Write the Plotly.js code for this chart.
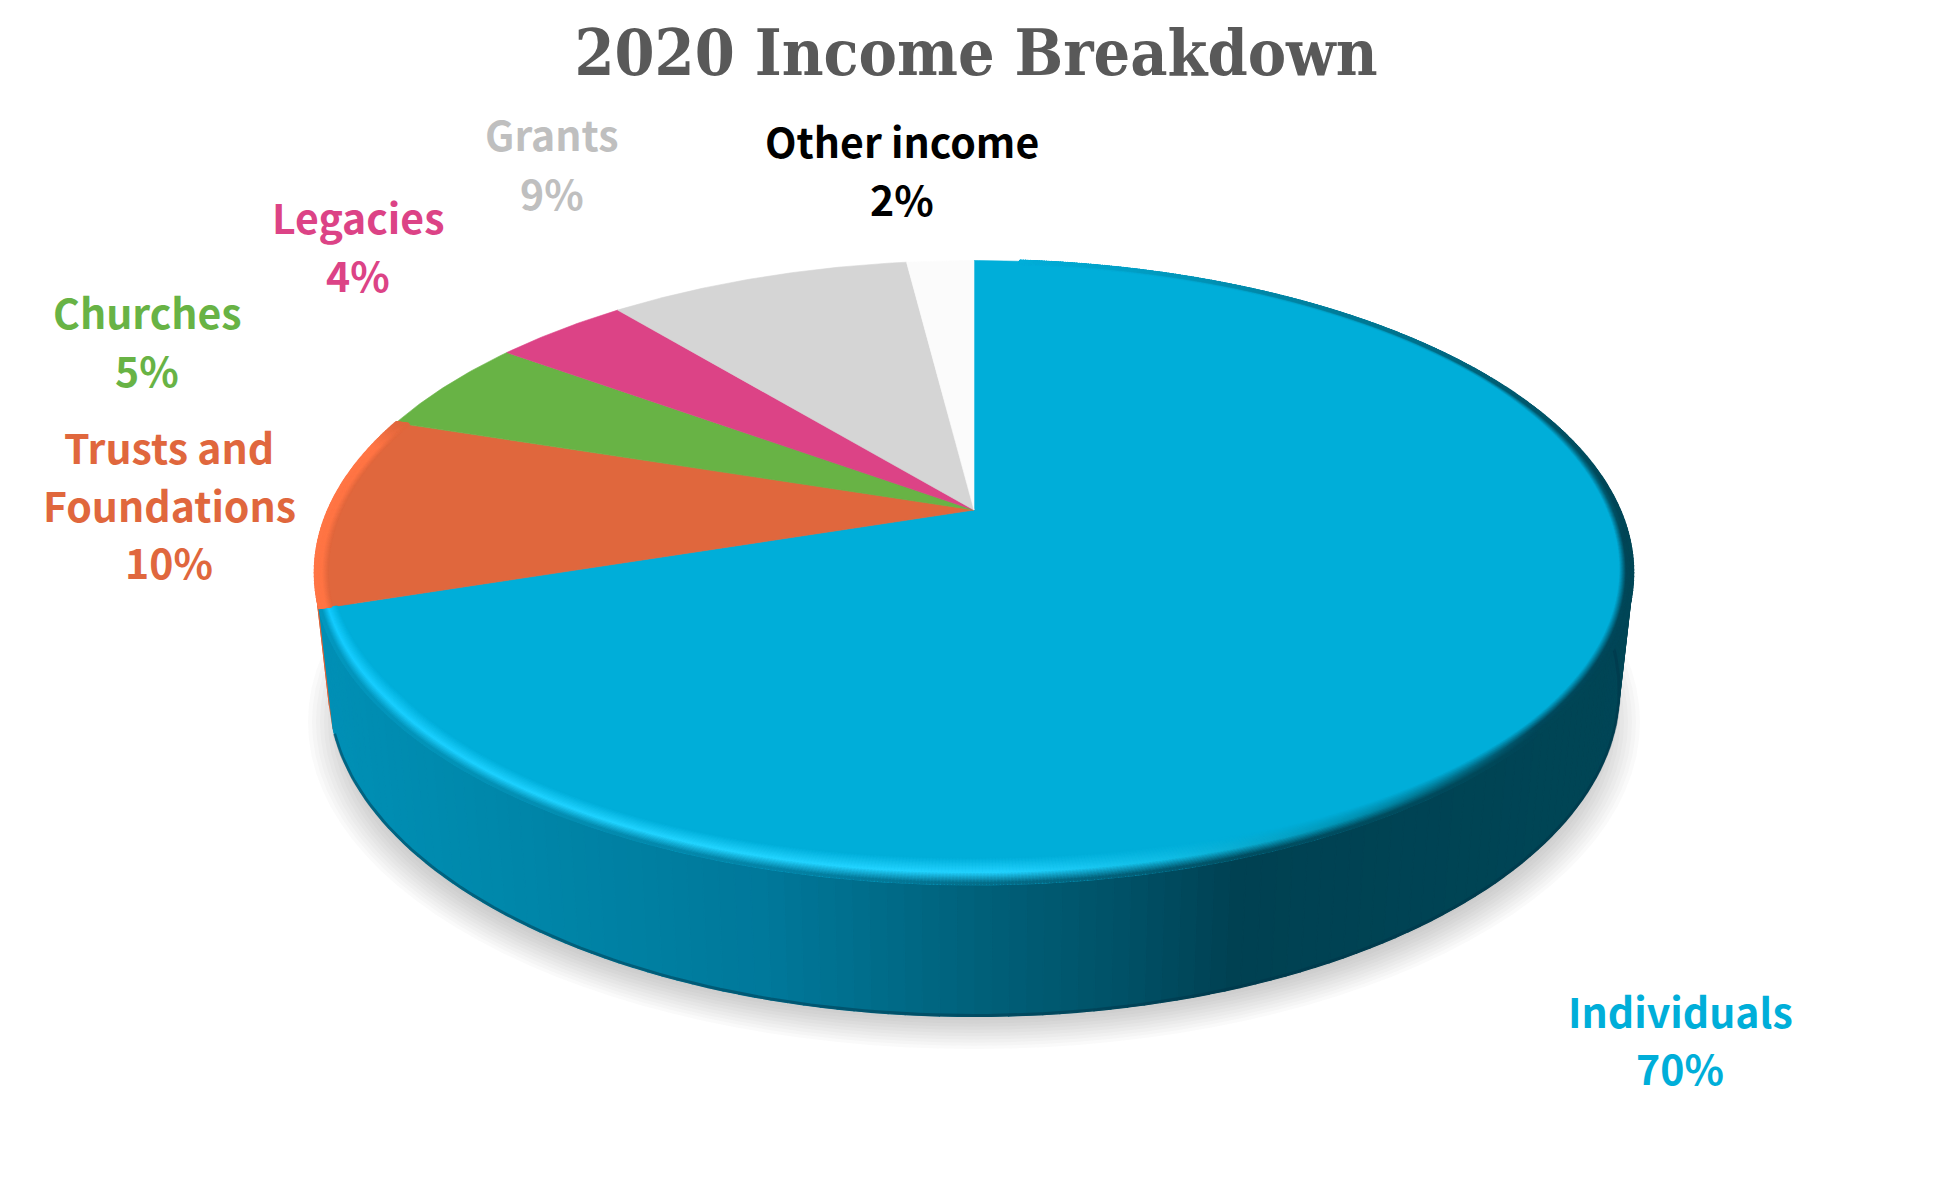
<!DOCTYPE html>
<html>
<head>
<meta charset="utf-8">
<script src="https://cdn.plot.ly/plotly-3.0.1.min.js"></script>
<style>html,body{margin:0;padding:0;background:#fff}#chart{width:1949px;height:1186px}</style>
</head>
<body>
<div id="chart"></div>
<script>
// ---- data ----
const categories = ['Individuals', 'Trusts and Foundations', 'Churches', 'Legacies', 'Grants', 'Other income'];
const shares = [70, 10, 5, 4, 9, 2];
// ---- style ----
const sliceColors = ['#00AED9', '#E0673D', '#68B345', '#DC4386', '#D5D5D5', '#FBFBFB'];
const labelColors = ['#00AED9', '#E0673D', '#68B345', '#DC4386', '#BFBFBF', '#000000'];
const labelLines = [['Individuals'], ['Trusts and', 'Foundations'], ['Churches'], ['Legacies'], ['Grants'], ['Other income']];
const labelX = [1680, 169, 147, 358, 552, 902];
const labelY = [[1009.5, 1067], [445.5, 504, 561], [311, 369], [215.5, 274], [133, 191.5], [139.5, 198]];

// perspective projection of the disc onto the plot's data coordinates
const K = 0.201;
const TOP = {cx: 974, cy: 510, a: 299.6, b: 645.6};
const BOTTOM = {cx: 974, cy: 626, a: 312, b: 632};
function project(ring, deg) {
  const t = deg * Math.PI / 180, u = Math.sin(t), v = Math.cos(t), w = 1 + K * v;
  return [ring.cx + ring.b * u / w, ring.cy - ring.a * v / w];
}
function hex(c) { return [1, 3, 5].map(i => parseInt(c.substr(i, 2), 16)); }
function mix(a, b, t) { const A = hex(a), B = hex(b); return '#' + A.map((x, i) => Math.round(x + (B[i] - x) * t).toString(16).padStart(2, '0')).join(''); }
function rampNum(stops, x) {
  if (x <= stops[0][0]) return stops[0][1];
  for (let i = 1; i < stops.length; i++) {
    if (x <= stops[i][0]) return stops[i - 1][1] + (stops[i][1] - stops[i - 1][1]) * (x - stops[i - 1][0]) / (stops[i][0] - stops[i - 1][0]);
  }
  return stops[stops.length - 1][1];
}
function ramp(stops, x) {
  if (x <= stops[0][0]) return stops[0][1];
  for (let i = 1; i < stops.length; i++) {
    if (x <= stops[i][0]) return mix(stops[i - 1][1], stops[i][1], (x - stops[i - 1][0]) / (stops[i][0] - stops[i - 1][0]));
  }
  return stops[stops.length - 1][1];
}
const sideStops = [[325, '#0090B6'], [500, '#0088AB'], [780, '#00789A'], [1000, '#005F78'], [1120, '#005268'], [1240, '#004152'], [1650, '#004656']];
const crestStops = [[5, '#00AED9'], [50, '#009EC2'], [78, '#00708A'], [95, '#004859'], [130, '#004A5E'], [150, '#0090B0'], [165, '#10BCE4'], [178, '#22D2FF'], [200, '#22D4FF'], [252, '#14CCFF']];
const rimWidthStops = [[5, 2], [60, 4], [90, 11], [130, 16], [165, 26], [235, 26], [252, 17]];
const edgeStrengthStops = [[5, 0], [85, 1]];

const traces = [];
function poly(xs, ys, color, opacity, lw) {
  traces.push({type: 'scatter', mode: 'lines', x: xs, y: ys, fill: 'toself', fillcolor: color, opacity: opacity === undefined ? 1 : opacity,
    line: {color: color, width: lw === undefined ? 0.8 : lw, simplify: false}, hoverinfo: 'skip', showlegend: false});
}

// soft ground shadow
for (let i = 0; i < 14; i++) {
  const xs = [], ys = [], rx = 666 - i * 4, ry = 327 - i * 3.2;
  for (let d = 0; d <= 360; d += 3) { const t = d * Math.PI / 180; xs.push(974 + rx * Math.sin(t)); ys.push(722 - ry * Math.cos(t)); }
  traces.push({type: 'scatter', mode: 'lines', x: xs, y: ys, fill: 'toself', fillcolor: 'rgba(90,90,90,0.026)', line: {width: 0}, hoverinfo: 'skip', showlegend: false});
}

// slice boundaries, clockwise from twelve o'clock
const total = shares.reduce((a, b) => a + b, 0);
const startDeg = [], endDeg = [];
let run = 0;
shares.forEach(s => { startDeg.push(run / total * 360); run += s; endDeg.push(run / total * 360); });

// side wall: orange first, then the big slice over it
function wall(from, to, step, colorAt) {
  for (let d = from; d < to; d += step) {
    const e = Math.min(d + step, to);
    const p1 = project(TOP, d), p2 = project(TOP, e), q2 = project(BOTTOM, e), q1 = project(BOTTOM, d);
    poly([p1[0], p2[0], q2[0], q1[0], p1[0]], [p1[1], p2[1], q2[1], q1[1], p1[1]], colorAt(q1[0]), 1, 1.2);
  }
}
wall(endDeg[0], endDeg[1], 4, () => '#D9643B');
wall(60, endDeg[0], 1.25, x => ramp(sideStops, x));

// soft dark lip along the foot of the wall
{
  const xs = [], ys = [];
  for (let d = 84; d <= endDeg[0]; d += 1) { const q = project(BOTTOM, d); xs.push(q[0]); ys.push(q[1] - 1); }
  traces.push({type: 'scatter', mode: 'lines', x: xs, y: ys, line: {color: 'rgba(0,50,70,0.45)', width: 3}, hoverinfo: 'skip', showlegend: false});
}

// top faces
shares.forEach((s, i) => {
  const xs = [TOP.cx], ys = [TOP.cy];
  const steps = Math.ceil((endDeg[i] - startDeg[i]) * 2);
  for (let n = 0; n <= steps; n++) {
    const p = project(TOP, startDeg[i] + (endDeg[i] - startDeg[i]) * n / steps);
    xs.push(p[0]); ys.push(p[1]);
  }
  xs.push(TOP.cx); ys.push(TOP.cy);
  traces.push({type: 'scatter', mode: 'lines', x: xs, y: ys, fill: 'toself', fillcolor: sliceColors[i], line: {color: sliceColors[i], width: 0.6},
    name: categories[i], hoverinfo: 'skip', showlegend: false});
});

// bevelled rim
const rimX = [], rimY = [], rimC = [];
function rim(from, to, widthAt, crestAt, base, sideAt) {
  const levels = 18;
  for (let k = levels; k >= 1; k--) {
    const t = k / levels;
    for (let d = from; d <= to; d += 0.25) {
      const p = project(TOP, d), dx = TOP.cx - p[0], dy = TOP.cy - p[1], L = Math.hypot(dx, dy);
      const depth = t * widthAt(d);
      const crest = crestAt(d);
      const c = t > 0.45 ? mix(base, crest, (1 - t) / 0.55) : mix(sideAt(d), crest, t / 0.45);
      rimX.push(p[0] + dx / L * depth); rimY.push(p[1] + dy / L * depth); rimC.push(c);
    }
  }
}
rim(5, endDeg[0], d => rampNum(rimWidthStops, d), d => ramp(crestStops, d), sliceColors[0],
  d => mix(ramp(crestStops, d), ramp(sideStops, project(BOTTOM, d)[0]), rampNum(edgeStrengthStops, d)));
rim(endDeg[0] + 0.25, endDeg[1], () => 12, d => ramp([[252, '#FF7545'], [283, '#FF7545'], [288, '#E0673D']], d), sliceColors[1],
  d => ramp([[252, '#FF7545'], [283, '#FF7545'], [288, '#E0673D']], d));
traces.push({type: 'scatter', mode: 'markers', x: rimX, y: rimY, marker: {size: 4, color: rimC, line: {width: 0}}, hoverinfo: 'skip', showlegend: false});

// labels: one text point per line, built from the arrays above
const annotations = [];
categories.forEach((c, i) => {
  const lines = labelLines[i].concat([shares[i] + '%']);
  lines.forEach((txt, j) => annotations.push({
    xref: 'x', yref: 'y', x: labelX[i], y: labelY[i][j], text: txt, showarrow: false, xanchor: 'center', yanchor: 'middle',
    font: {family: '"Noto Sans CJK SC", "Noto Sans", sans-serif', size: 41, color: labelColors[i], weight: 700}
  }));
});

const layout = {
  width: 1949, height: 1186,
  margin: {l: 0, r: 0, t: 0, b: 0},
  paper_bgcolor: '#ffffff', plot_bgcolor: '#ffffff',
  showlegend: false,
  title: {text: '2020 Income Breakdown', x: 976 / 1949, xanchor: 'center', y: 1 - 53 / 1186, yanchor: 'middle',
    font: {family: '"DejaVu Serif Condensed", "DejaVu Serif", serif', size: 64, color: '#595959', weight: 700}},
  xaxis: {range: [0, 1949], visible: false, fixedrange: true},
  yaxis: {range: [1186, 0], visible: false, fixedrange: true},
  annotations: annotations
};
Plotly.newPlot('chart', traces, layout, {displayModeBar: false, staticPlot: true});
</script>
</body>
</html>
